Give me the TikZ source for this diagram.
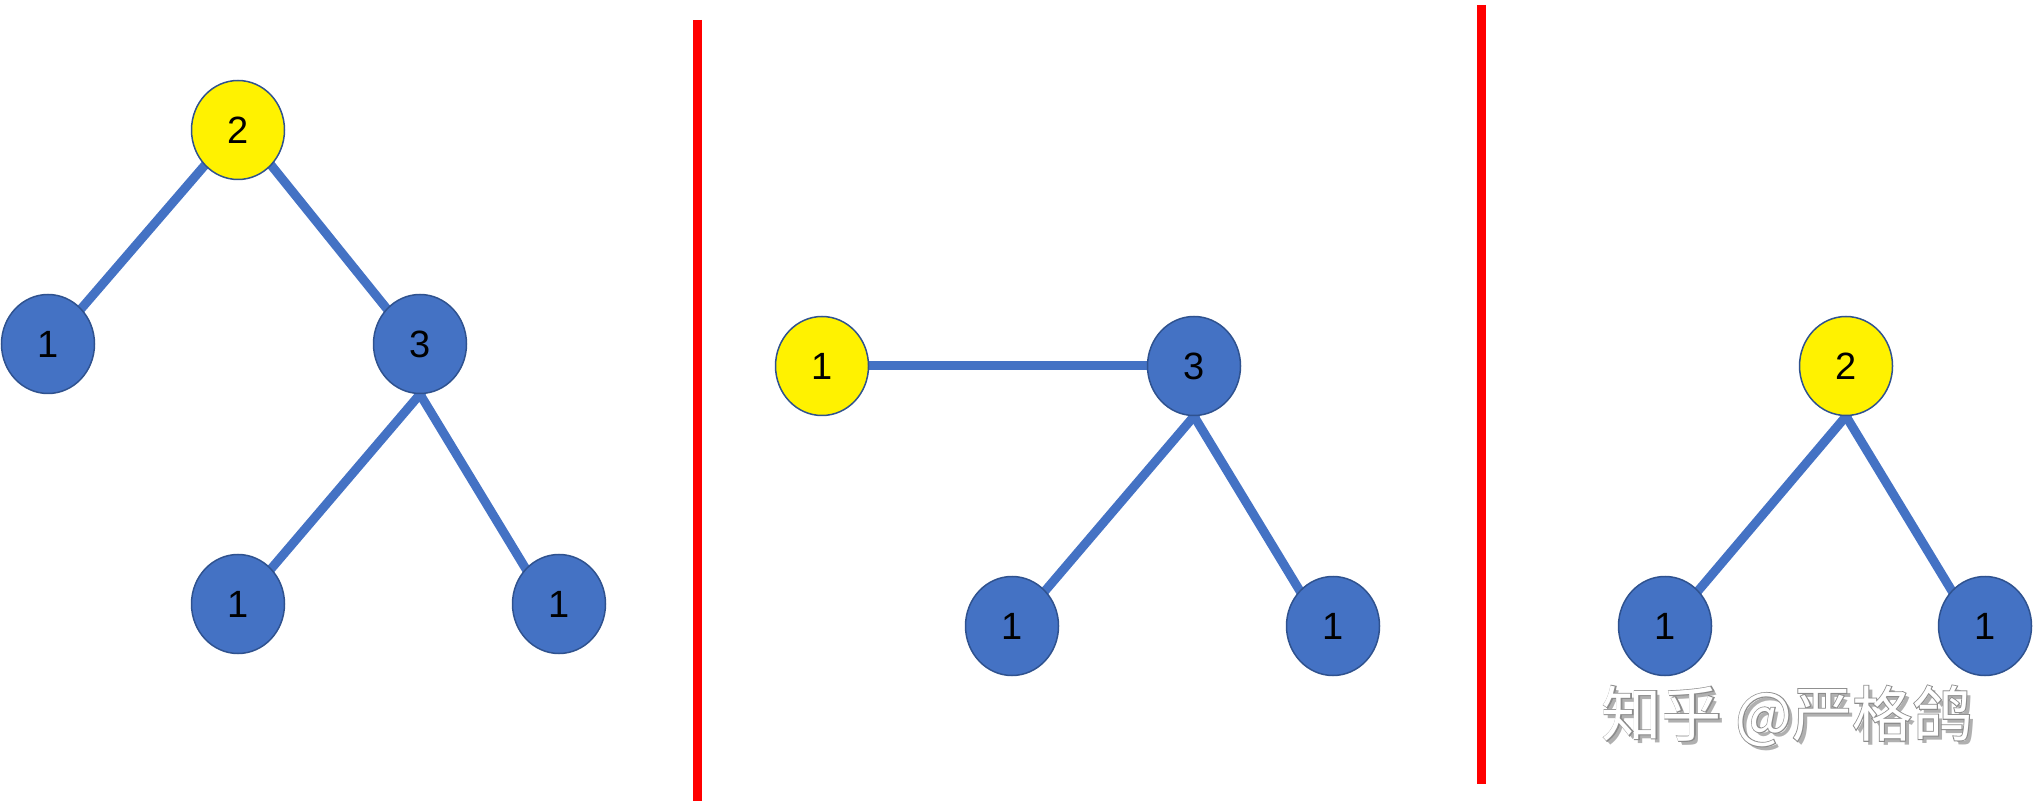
\documentclass[tikz,border=0pt]{standalone}
\usepackage{fontspec}
\setmainfont{Liberation Sans}
\newfontfamily\cjk{Noto Sans CJK SC}
\newfontfamily\cjkedge[FakeBold=3]{Noto Sans CJK SC}
\usepackage{tikz}
\usetikzlibrary{shapes.geometric}
\usepackage{xcolor}
\definecolor{nodeblue}{HTML}{4472C4}
\definecolor{rimblue}{HTML}{2F528F}
\definecolor{shadegray}{HTML}{B0B0B0}
\definecolor{edgegray}{HTML}{8C8C8C}
\pgfdeclarelayer{bg}
\pgfsetlayers{bg,main}

\begin{document}
\begin{tikzpicture}[x=0.5pt, y=-0.5pt]
\useasboundingbox (0,0) rectangle (2033,801);
\tikzstyle{every node} = [ellipse, draw=rimblue, line width=0.75pt, fill=nodeblue, minimum width=46.5pt, minimum height=49.5pt, inner sep=0pt, font=\fontsize{19}{21}\selectfont]
\tikzstyle{root} = [fill=yellow]
\tikzstyle{edge} = [nodeblue, line width=4.5pt, shorten <=-2pt, shorten >=-2pt]
% left tree
\node[root] (r1) at (238,130) {2};
\node (a1) at (48,344) {1};
\node (b1) at (420,344) {3};
\node (c1) at (238,604) {1};
\node (d1) at (559,604) {1};
% middle tree
\node[root] (p2) at (822,366) {1};
\node (q2) at (1194,366) {3};
\node (c2) at (1012,626) {1};
\node (d2) at (1333,626) {1};
% right tree
\node[root] (s3) at (1846,366) {2};
\node (c3) at (1665,626) {1};
\node (d3) at (1985,626) {1};
\begin{pgfonlayer}{bg}
\draw[edge] (r1.south west) -- (a1.north east);
\draw[edge] (r1.south east) -- (b1.north west);
\draw[edge] (b1.south) -- (c1.north east);
\draw[edge] (b1.south) -- (d1.north west);
\draw[edge] (p2.east) -- (q2.west);
\draw[edge] (q2.south) -- (c2.north east);
\draw[edge] (q2.south) -- (d2.north west);
\draw[edge] (s3.south) -- (c3.north east);
\draw[edge] (s3.south) -- (d3.north west);
\end{pgfonlayer}
% separators
\draw[red, line width=4.5pt] (697.5,20) -- (697.5,801);
\draw[red, line width=4.5pt] (1481.5,5) -- (1481.5,784);
% watermark
\tikzstyle{every node} = [inner sep=0pt, font=\cjk\fontsize{30}{32}\selectfont]
\node[text=shadegray] (wmshade) at (1791,720) {知乎 @严格鸽};
\node[text=edgegray, font=\cjkedge\fontsize{30}{32}\selectfont] (wmedge) at (1787,716) {知乎 @严格鸽};
\node[text=white] (wm) at (1787,716) {知乎 @严格鸽};
\end{tikzpicture}
\end{document}
